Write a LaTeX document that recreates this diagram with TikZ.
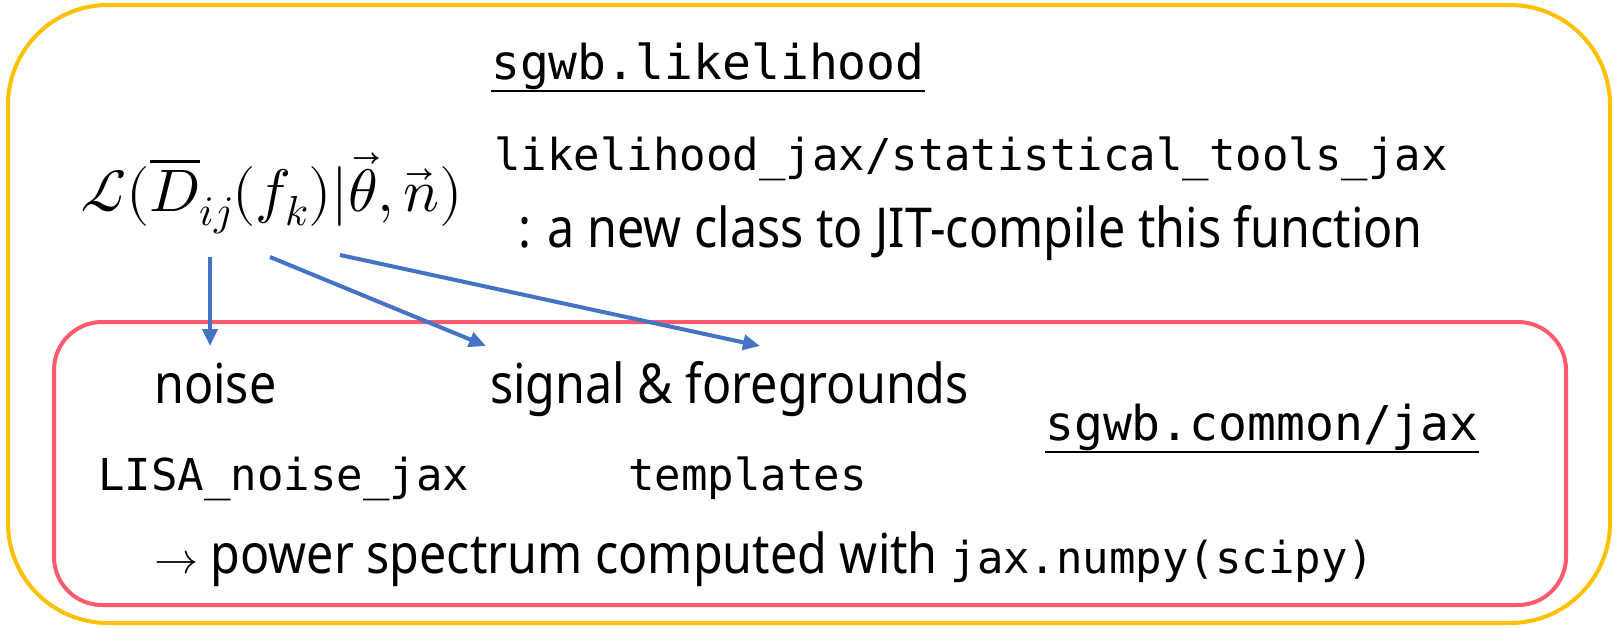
\documentclass[tikz,border=0pt]{standalone}
\usepackage{fontspec}
\usepackage{unicode-math}
\setmainfont[FakeStretch=0.88]{Noto Sans}
\setmonofont{DejaVu Sans Mono}
\usetikzlibrary{arrows.meta}
\definecolor{boxgold}{HTML}{FFC000}
\definecolor{boxred}{HTML}{FF5A6E}
\definecolor{arrowblue}{HTML}{4472C4}

\begin{document}
\begin{tikzpicture}[x=1pt,y=-1pt,
	lbl/.style={anchor=base west,inner sep=0pt},
	code/.style={lbl,font=\fontsize{44}{52}\selectfont\ttfamily},
	modname/.style={lbl,font=\fontsize{48}{58}\selectfont\ttfamily},
	prose/.style={lbl,font=\fontsize{55}{64}\selectfont},
	uline/.style={line width=2.5pt},
	link/.style={arrowblue,line width=4pt,-{Triangle[length=17pt,width=15pt]}}]
	\useasboundingbox (0,0) rectangle (1614,627);
	% boxes
	\draw[boxgold,line width=4pt,rounded corners=100pt] (8,5) rectangle (1610,623);
	\draw[boxred,line width=4pt,rounded corners=48pt] (54,322) rectangle (1566,605);
	% likelihood part
	\node[modname] (likmod) at (491,79) {sgwb.likelihood};
	\draw[uline] ([yshift=-12pt]likmod.base west) -- ([yshift=-12pt]likmod.base east);
	\node[lbl,font=\fontsize{60}{70}\selectfont] (lik) at (80,211)
		{$\mathcal{L}(\overline{D}_{ij}(f_k)|\vec{\theta},\vec{n})$};
	\node[code] (likjax) at (494,170) {likelihood\_jax/statistical\_tools\_jax};
	\node[prose] (likdesc) at (518,247) {: a new class to JIT-compile this function};
	% common part
	\node[prose] (noise) at (154,403) {noise};
	\node[prose] (signal) at (490,403) {signal \& foregrounds};
	\node[modname] (commod) at (1045,440) {sgwb.common/jax};
	\draw[uline] ([yshift=-12pt]commod.base west) -- ([yshift=-12pt]commod.base east);
	\node[code] (lisa) at (98,490) {LISA\_noise\_jax};
	\node[code] (templ) at (628,490) {templates};
	\node[prose] (power) at (154,573) {{\fontsize{44}{50}\selectfont$\rightarrow$} power spectrum computed with
		{\fontsize{44}{52}\selectfont\ttfamily jax.numpy(scipy)}};
	% arrows
	\coordinate (to-noise-a) at (210,257);
	\coordinate (to-noise-b) at (210,346);
	\coordinate (to-sig-a) at (270,257);
	\coordinate (to-sig-b) at (486,346);
	\coordinate (to-fg-a) at (340,255);
	\coordinate (to-fg-b) at (760,346);
	\draw[link] (to-noise-a) -- (to-noise-b);
	\draw[link] (to-sig-a) -- (to-sig-b);
	\draw[link] (to-fg-a) -- (to-fg-b);
\end{tikzpicture}
\end{document}
